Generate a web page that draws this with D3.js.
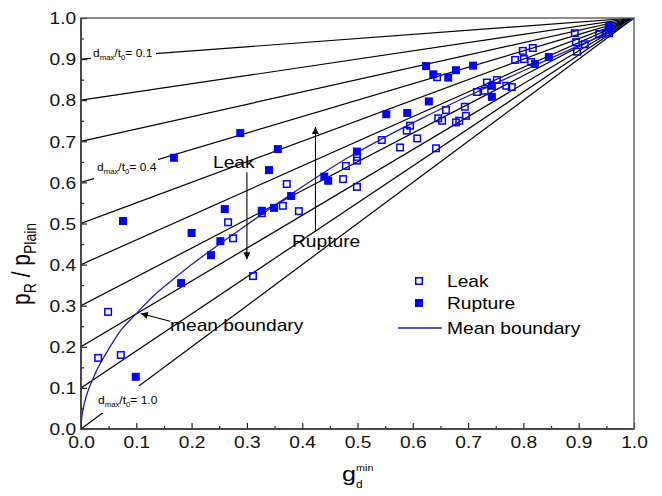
<!DOCTYPE html>
<html><head><meta charset="utf-8">
<script src="https://cdn.jsdelivr.net/npm/d3@7"></script>
<style>
html,body{margin:0;padding:0;background:#fff;}
svg{display:block;font-family:"Liberation Sans",Arial,sans-serif;}
</style></head>
<body><svg id="chart" width="662" height="496"></svg>
<script>
// ---- data ----
const xTicks = [0.0,0.1,0.2,0.3,0.4,0.5,0.6,0.7,0.8,0.9,1.0];
const yTicks = [0.0,0.1,0.2,0.3,0.4,0.5,0.6,0.7,0.8,0.9,1.0];
const ratioLevels = [0.1,0.2,0.3,0.4,0.5,0.6,0.7,0.8,0.9,1.0]; // d_max/t_0

const leakG = [0.372,0.266,0.275,0.327,0.365,0.394,0.311,0.049,0.031,0.072,
  0.644,0.893,0.895,0.897,0.911,0.937,0.951,0.799,0.817,0.785,0.801,0.814,
  0.734,0.752,0.716,0.730,0.769,0.779,0.660,0.694,0.646,0.653,0.678,0.684,0.696,
  0.595,0.589,0.608,0.544,0.577,0.642,0.499,0.499,0.479,0.474,0.499,0.955];
const leakP = [0.596,0.503,0.464,0.525,0.543,0.530,0.372,0.285,0.173,0.180,
  0.856,0.963,0.941,0.918,0.936,0.961,0.963,0.920,0.927,0.898,0.900,0.893,
  0.843,0.849,0.820,0.823,0.835,0.832,0.776,0.784,0.756,0.750,0.746,0.750,0.762,
  0.738,0.726,0.707,0.703,0.685,0.683,0.662,0.653,0.640,0.608,0.589,0.963];

const ruptureG = [0.168,0.288,0.356,0.340,0.076,0.260,0.200,0.252,0.327,0.349,0.380,0.440,0.447,0.235,0.181,0.099,
  0.624,0.637,0.664,0.678,0.709,0.629,0.552,0.590,0.499,0.743,0.743,0.821,0.846,0.955];
const ruptureP = [0.660,0.720,0.681,0.630,0.506,0.535,0.477,0.457,0.531,0.538,0.567,0.614,0.604,0.423,0.355,0.127,
  0.883,0.863,0.855,0.873,0.884,0.797,0.766,0.769,0.675,0.835,0.808,0.888,0.905,0.981];

const boundaryG = [0,0.002,0.006,0.012,0.020,0.031,0.049,0.072,0.103,0.132,0.163,0.200,0.233,0.300,0.360,0.420,0.480,0.540,0.618,0.703,0.794,0.902,0.962,1.0];
const boundaryP = [0,0.035,0.062,0.090,0.117,0.150,0.192,0.240,0.285,0.325,0.360,0.400,0.433,0.497,0.553,0.607,0.658,0.703,0.757,0.812,0.868,0.934,0.970,1.0];

// ---- setup ----
const svg = d3.select("#chart");
const SX = 1.2; // horizontal text stretch of the original
const x = d3.scaleLinear().domain([0,1]).range([81,634]);
const y = d3.scaleLinear().domain([0,1]).range([429,18]);
const blue = "#0000ff";
const fmt = d3.format(".1f");

function stretchText(sel){ sel.each(function(){ d3.select(this).attr("transform","scale("+SX+",1)"); }); }

const defs = svg.append("defs");
defs.append("clipPath").attr("id","plotclip").append("rect")
  .attr("x",x(0)).attr("y",y(1)).attr("width",x(1)-x(0)).attr("height",y(0)-y(1));
defs.append("marker").attr("id","ah").attr("viewBox","0 0 10 10").attr("refX",10).attr("refY",5)
  .attr("markerWidth",9).attr("markerHeight",7).attr("markerUnits","userSpaceOnUse").attr("orient","auto")
  .append("path").attr("d","M0,0 L10,5 L0,10 Z").attr("fill","#000");

const plot = svg.append("g").attr("clip-path","url(#plotclip)");

// reference lines d_max/t_0
plot.selectAll("line.ref").data(ratioLevels).enter().append("line").attr("class","ref")
  .attr("x1",x(0)).attr("y1",d=>y(1-d)).attr("x2",x(1)).attr("y2",y(1))
  .attr("stroke","#000").attr("stroke-width",1.2);

// white label boxes on lines
function dLabel(px,py,val,box){
  svg.append("rect").attr("x",box[0]).attr("y",box[1]).attr("width",box[2]).attr("height",box[3]).attr("fill","#fff");
  const g = svg.append("g").attr("transform","translate("+px+","+py+") scale("+SX+",1)");
  const t = g.append("text").attr("font-size",10).attr("fill","#000");
  t.append("tspan").text("d");
  t.append("tspan").attr("font-size",6.5).attr("dy",3).text("max");
  t.append("tspan").attr("dy",-3).text("/t");
  t.append("tspan").attr("font-size",6.5).attr("dy",3).text("0");
  t.append("tspan").attr("dy",-3).text("= "+fmt(val));
}
dLabel(93,57,0.1,[91,47,65,15]);
dLabel(97,171,0.4,[94,158,64,22]);
dLabel(98,404,1.0,[100,386,60,27]);

// mean boundary curve
const bdata = boundaryG.map((g,i)=>[g,boundaryP[i]]);
plot.append("path").datum(bdata)
  .attr("d",d3.line().x(d=>x(d[0])).y(d=>y(d[1])).curve(d3.curveCatmullRom.alpha(0.5)))
  .attr("fill","none").attr("stroke","#1f1fa6").attr("stroke-width",1.3);

// markers
const ms = 8;
svg.append("g").selectAll("rect").data(leakG.map((g,i)=>[g,leakP[i]])).enter().append("rect")
  .attr("x",d=>x(d[0])-ms/2+0.75).attr("y",d=>y(d[1])-ms/2+0.75).attr("width",ms-1.5).attr("height",ms-1.5)
  .attr("fill","none").attr("stroke",blue).attr("stroke-width",1.5);
svg.append("g").selectAll("rect").data(ruptureG.map((g,i)=>[g,ruptureP[i]])).enter().append("rect")
  .attr("x",d=>x(d[0])-ms/2).attr("y",d=>y(d[1])-ms/2).attr("width",ms).attr("height",ms)
  .attr("fill",blue);

// axes
const xAxis = svg.append("g").attr("transform","translate(0,"+y(0)+")")
  .call(d3.axisBottom(x).tickValues(xTicks).tickFormat(fmt).tickSizeInner(-6).tickSizeOuter(0).tickPadding(8));
const xMinor = svg.append("g").attr("transform","translate(0,"+y(0)+")")
  .call(d3.axisBottom(x).tickValues(xTicks.slice(0,-1).map((v,i)=>(xTicks[i]+xTicks[i+1])/2)).tickFormat("").tickSizeInner(-3).tickSizeOuter(0));
const yAxis = svg.append("g").attr("transform","translate("+x(0)+",0)")
  .call(d3.axisLeft(y).tickValues(yTicks).tickFormat(fmt).tickSizeInner(-6).tickSizeOuter(0).tickPadding(4));
const yMinor = svg.append("g").attr("transform","translate("+x(0)+",0)")
  .call(d3.axisLeft(y).tickValues(yTicks.slice(0,-1).map((v,i)=>(yTicks[i]+yTicks[i+1])/2)).tickFormat("").tickSizeInner(-3).tickSizeOuter(0));
[xAxis,yAxis,xMinor,yMinor].forEach(a=>{
  a.select(".domain").remove();
  a.selectAll(".tick line").attr("stroke","#222").attr("stroke-width",1.2);
  a.selectAll("text").attr("font-size",16).attr("font-family","'Liberation Sans',Arial,sans-serif").attr("fill","#111");
});
yAxis.selectAll("text").attr("dy","0.36em").call(stretchText);
xAxis.selectAll("text").call(stretchText);

// frame
svg.append("rect").attr("x",x(0)).attr("y",y(1)).attr("width",x(1)-x(0)).attr("height",y(0)-y(1))
  .attr("fill","none").attr("stroke","#666").attr("stroke-width",1.5);
svg.append("path").attr("d","M"+x(0)+","+y(1)+"V"+y(0)+"H"+x(1)).attr("fill","none").attr("stroke","#333").attr("stroke-width",1.5);

// generic stretched text
function stext(px,py,str,size,anchor){
  return svg.append("g").attr("transform","translate("+px+","+py+") scale("+SX+",1)")
    .append("text").attr("font-size",size).attr("text-anchor",anchor||"start").attr("fill","#000").text(str);
}

// annotations
stext(213,168,"Leak",16);
stext(292,247,"Rupture",16);
stext(170,331,"mean boundary",16);
svg.append("line").attr("x1",x(0.3)).attr("y1",y(0.625)).attr("x2",x(0.3)).attr("y2",y(0.413))
  .attr("stroke","#000").attr("stroke-width",1.1).attr("marker-end","url(#ah)");
svg.append("line").attr("x1",x(0.424)).attr("y1",y(0.48)).attr("x2",x(0.424)).attr("y2",y(0.735))
  .attr("stroke","#000").attr("stroke-width",1.1).attr("marker-end","url(#ah)");
svg.append("line").attr("x1",x(0.161)).attr("y1",y(0.262)).attr("x2",x(0.108)).attr("y2",y(0.281))
  .attr("stroke","#000").attr("stroke-width",1.1).attr("marker-end","url(#ah)");

// legend
const lg = svg.append("g");
lg.append("rect").attr("x",415.75).attr("y",277.75).attr("width",6.5).attr("height",6.5).attr("fill","none").attr("stroke",blue).attr("stroke-width",1.5);
lg.append("rect").attr("x",415).attr("y",299).attr("width",8).attr("height",8).attr("fill",blue);
lg.append("line").attr("x1",398).attr("x2",442).attr("y1",328).attr("y2",328).attr("stroke","#1f1fa6").attr("stroke-width",1.3);
stext(447,287,"Leak",16);
stext(447,309,"Rupture",16);
stext(447,334,"Mean boundary",16);

// axis titles
const xt = svg.append("g").attr("transform","translate(342,481) scale("+SX+",1)").append("text").attr("font-size",21).attr("fill","#000");
xt.append("tspan").text("g");
xt.append("tspan").attr("font-size",10).attr("dy",7).text("d");
xt.append("tspan").attr("font-size",9).attr("dx",-5.5).attr("dy",-17).text("min");

const yt = svg.append("g").attr("transform","translate(30,305) scale("+SX+",1) rotate(-90)").append("text").attr("font-size",21).attr("fill","#000");
yt.append("tspan").text("p");
yt.append("tspan").attr("font-size",14).attr("dy",5).text("R");
yt.append("tspan").attr("dy",-5).text(" / p");
yt.append("tspan").attr("font-size",14).attr("dy",5).text("Plain");
</script></body></html>
